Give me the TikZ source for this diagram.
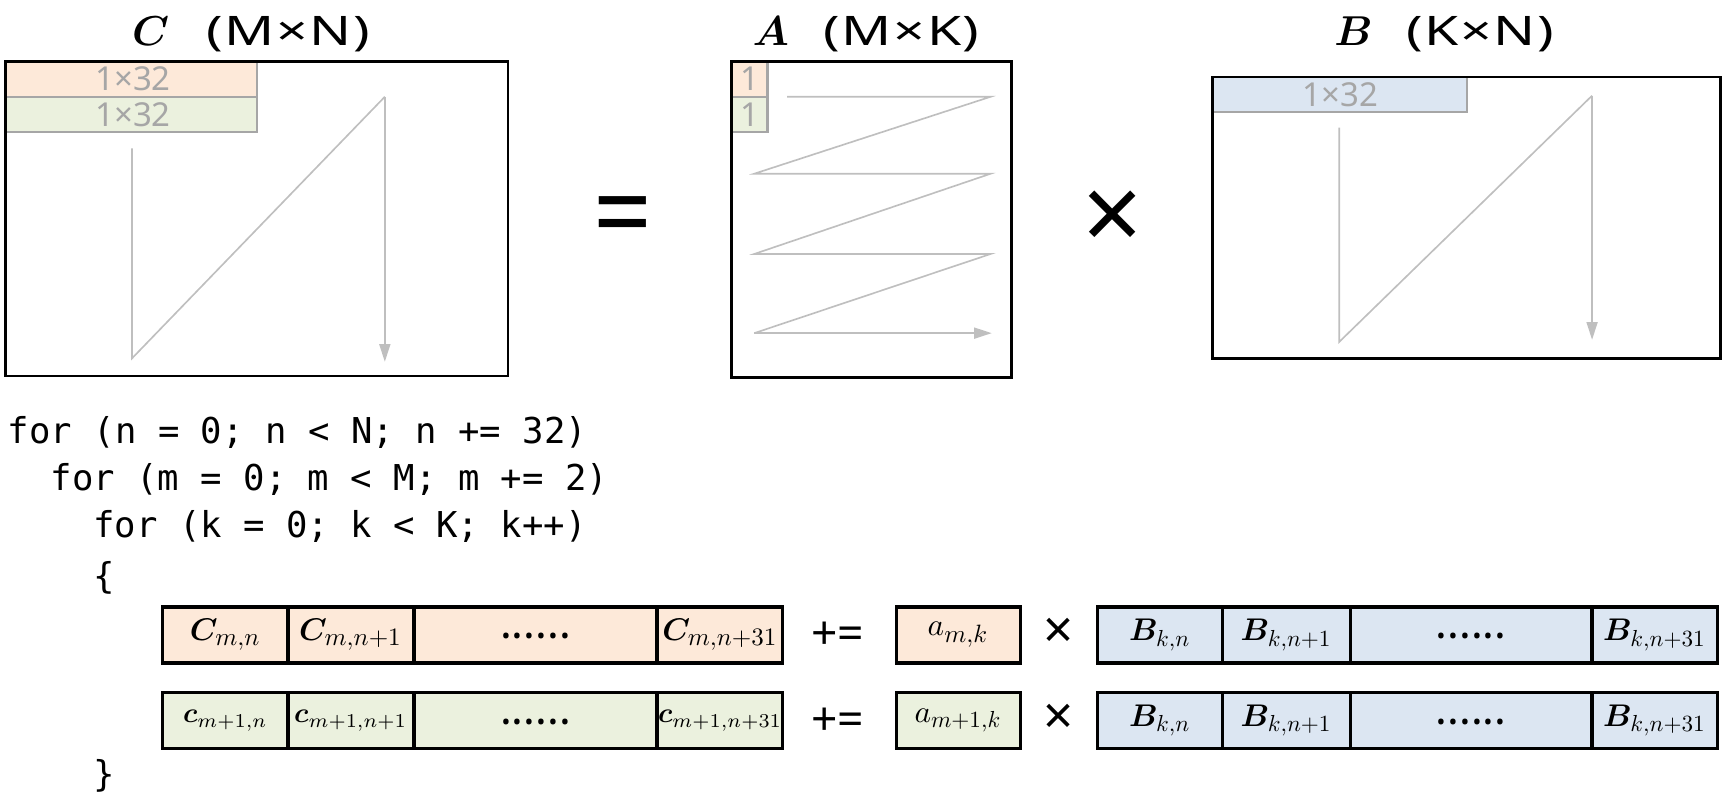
\documentclass[tikz,border=0pt]{standalone}
\usepackage{fontspec}
\usepackage{amsmath,bm}
\setmonofont{DejaVu Sans Mono}
\newfontfamily\sansf{Noto Sans}
\newfontfamily\ttlfont{Noto Sans}[LetterSpace=3]
\usetikzlibrary{arrows.meta}
\definecolor{corange}{HTML}{FDE9D9}
\definecolor{cgreen}{HTML}{EBF1DE}
\definecolor{cblue}{HTML}{DCE6F2}
\definecolor{stripgray}{HTML}{A6A6A6}
\definecolor{zzgray}{HTML}{BFBFBF}
\newcommand{\sba}[1]{\scalebox{0.8}{$#1$}}
\newcommand{\sbb}[1]{\scalebox{0.74}{$#1$}}
\newcommand{\mbg}[1]{\scalebox{2.85}{$#1$}}
\newcommand{\msm}[1]{\scalebox{2.55}{$#1$}}
\newcommand{\ttlm}[1]{\scalebox{3.8}{$\bm{#1}$}}
\newcommand{\dotsrow}{{\sansf\bfseries\fontsize{40}{40}\selectfont ······}}
\begin{document}
\begin{tikzpicture}[x=1pt,y=-1pt,
  matbox/.style={draw=black, line width=2.6pt, rectangle, inner sep=0pt},
  stripbox/.style={draw=stripgray, line width=2pt},
  zzline/.style={draw=zzgray, line width=1.5pt},
  zztip/.style={zzline, -{Triangle[length=16pt,width=10pt]}},
  labtext/.style={font=\sansf\fontsize{30}{30}\selectfont, text=stripgray, inner sep=0pt},
  ttltext/.style={font=\ttlfont\fontsize{37}{37}\selectfont, inner sep=0pt, anchor=base},
  ttlmath/.style={inner sep=0pt, anchor=base},
  codetext/.style={font=\ttfamily\fontsize{32.4}{32.4}\selectfont, inner sep=0pt, anchor=base west},
  cellbox/.style={draw=black, line width=2.9pt, rectangle, inner sep=0pt, minimum height=51pt},
  wcell/.style={cellbox, minimum width=114pt},
  wdcell/.style={cellbox, minimum width=221pt},
  celltext/.style={inner sep=0pt},
  dotstext/.style={inner sep=0pt, yshift=-7pt},
  optext/.style={font=\sansf\bfseries\fontsize{42}{42}\selectfont, inner sep=0pt},
  opxtext/.style={font=\sansf\fontsize{48}{48}\selectfont, inner sep=0pt}
]
\useasboundingbox (0,0) rectangle (1568,727);

% ---------- titles ----------
\node[ttlmath] (tC) at (137,41) {\ttlm{C}};
\node[ttltext] (tCd) at (262,41) {\scalebox{1.36}[1]{(M×N)}};
\node[ttlmath] (tA) at (701,41) {\ttlm{A}};
\node[ttltext] (tAd) at (820,41) {\scalebox{1.36}[1]{(M×K)}};
\node[ttlmath] (tB) at (1231,41) {\ttlm{B}};
\node[ttltext] (tBd) at (1346,41) {\scalebox{1.36}[1]{(K×N)}};

% ---------- matrix C ----------
\fill[corange] (5,56) rectangle (234,88);
\fill[cgreen] (5,88) rectangle (234,120);
\draw[stripbox] (5,56) rectangle (234,88);
\draw[stripbox] (5,88) rectangle (234,120);
\node[labtext] (lc1) at (121,72) {1×32};
\node[labtext] (lc2) at (121,104) {1×32};
\coordinate (c0) at (120,135);
\coordinate (c1) at (120,326);
\coordinate (c2) at (350,88);
\coordinate (c3) at (350,329);
\draw[zzline] (c0) -- (c1) -- (c2);
\draw[zztip] (c2) -- (c3);
\node[matbox, minimum width=457pt, minimum height=286pt] (C) at (233.5,199) {};

% ---------- equals ----------
\node[font=\sansf\bfseries\fontsize{72}{72}\selectfont, inner sep=0pt] (eq) at (567,204) {\scalebox{1.3}[1.45]{=}};

% ---------- matrix A ----------
\fill[corange] (665,56) rectangle (698,88);
\fill[cgreen] (665,88) rectangle (698,120);
\draw[stripbox] (665,56) rectangle (698,88);
\draw[stripbox] (665,88) rectangle (698,120);
\node[labtext] (la1) at (682,72) {1};
\node[labtext] (la2) at (682,104) {1};
\coordinate (a0) at (716,88);
\coordinate (a1) at (901,88);
\coordinate (a2) at (686,158);
\coordinate (a3) at (901,158);
\coordinate (a4) at (686,231);
\coordinate (a5) at (901,231);
\coordinate (a6) at (686,303);
\coordinate (a7) at (902,303);
\draw[zzline] (a0) -- (a1) -- (a2) -- (a3) -- (a4) -- (a5) -- (a6);
\draw[zztip] (a6) -- (a7);
\node[matbox, minimum width=255pt, minimum height=287pt] (A) at (792.5,199.5) {};

% ---------- times ----------
\node[font=\sansf\fontsize{96}{96}\selectfont, inner sep=0pt] (tm) at (1012,201) {×};

% ---------- matrix B ----------
\fill[cblue] (1103,70) rectangle (1334,102);
\draw[stripbox] (1103,70) rectangle (1334,102);
\node[labtext] (lb1) at (1219,86) {1×32};
\coordinate (b0) at (1218,116);
\coordinate (b1) at (1218,311);
\coordinate (b2) at (1448,87);
\coordinate (b3) at (1448,309);
\draw[zzline] (b0) -- (b1) -- (b2);
\draw[zztip] (b2) -- (b3);
\node[matbox, minimum width=462pt, minimum height=256pt] (B) at (1334,198) {};

% ---------- code ----------
\node[codetext] (l1) at (7,403.5) {for (n = 0; n < N; n += 32)};
\node[codetext] (l2) at (45.8,446) {for (m = 0; m < M; m += 2)};
\node[codetext] (l3) at (84.6,488.5) {for (k = 0; k < K; k++)};
\node[codetext] (l4) at (84.6,535) {\{};
\node[codetext] (l5) at (84.6,715) {\}};

% ---------- row 1 ----------
\node[wcell, fill=corange] (r1c1) at (205,577.5) {};
\node[wcell, fill=corange] (r1c2) at (319,577.5) {};
\node[wdcell, fill=corange] (r1c3) at (487,577.5) {};
\node[wcell, fill=corange] (r1c4) at (655,577.5) {};
\node[celltext] at (r1c1) {\mbg{\bm{C}_{\sba{m{,}n}}}};
\node[celltext] at (r1c2) {\mbg{\bm{C}_{\sba{m{,}n{+}1}}}};
\node[dotstext] at (r1c3) {\dotsrow};
\node[celltext] at (r1c4) {\mbg{\bm{C}_{\sba{m{,}n{+}31}}}};
\node[optext] (pe1) at (762,578) {+=};
\node[cellbox, fill=corange, minimum width=113pt] (ra1) at (871.5,577.5) {};
\node[celltext] at (ra1) {\mbg{a_{\sba{m{,}k}}}};
\node[opxtext] (x1) at (963,576) {×};
\node[wcell, fill=cblue] (r1b1) at (1055,577.5) {};
\node[cellbox, fill=cblue, minimum width=116pt] (r1b2) at (1170,577.5) {};
\node[cellbox, fill=cblue, minimum width=220pt] (r1b3) at (1338,577.5) {};
\node[wcell, fill=cblue] (r1b4) at (1505,577.5) {};
\node[celltext] at (r1b1) {\mbg{\bm{B}_{\sbb{k{,}n}}}};
\node[celltext] at (r1b2) {\mbg{\bm{B}_{\sbb{k{,}n{+}1}}}};
\node[dotstext] at (r1b3) {\dotsrow};
\node[celltext] at (r1b4) {\mbg{\bm{B}_{\sbb{k{,}n{+}31}}}};

% ---------- row 2 ----------
\node[wcell, fill=cgreen] (r2c1) at (205,655.5) {};
\node[wcell, fill=cgreen] (r2c2) at (319,655.5) {};
\node[wdcell, fill=cgreen] (r2c3) at (487,655.5) {};
\node[wcell, fill=cgreen] (r2c4) at (655,655.5) {};
\node[celltext] at (r2c1) {\msm{\bm{c}_{m+1,n}}};
\node[celltext] at (r2c2) {\msm{\bm{c}_{m+1,n+1}}};
\node[dotstext] at (r2c3) {\dotsrow};
\node[celltext] at (r2c4) {\msm{\bm{c}_{m+1,n+31}}};
\node[optext] (pe2) at (762,656) {+=};
\node[cellbox, fill=cgreen, minimum width=113pt] (ra2) at (871.5,655.5) {};
\node[celltext] at (ra2) {\mbg{a_{\sbb{m{+}1{,}k}}}};
\node[opxtext] (x2) at (963,654) {×};
\node[wcell, fill=cblue] (r2b1) at (1055,655.5) {};
\node[cellbox, fill=cblue, minimum width=116pt] (r2b2) at (1170,655.5) {};
\node[cellbox, fill=cblue, minimum width=220pt] (r2b3) at (1338,655.5) {};
\node[wcell, fill=cblue] (r2b4) at (1505,655.5) {};
\node[celltext] at (r2b1) {\mbg{\bm{B}_{\sbb{k{,}n}}}};
\node[celltext] at (r2b2) {\mbg{\bm{B}_{\sbb{k{,}n{+}1}}}};
\node[dotstext] at (r2b3) {\dotsrow};
\node[celltext] at (r2b4) {\mbg{\bm{B}_{\sbb{k{,}n{+}31}}}};
\end{tikzpicture}
\end{document}
